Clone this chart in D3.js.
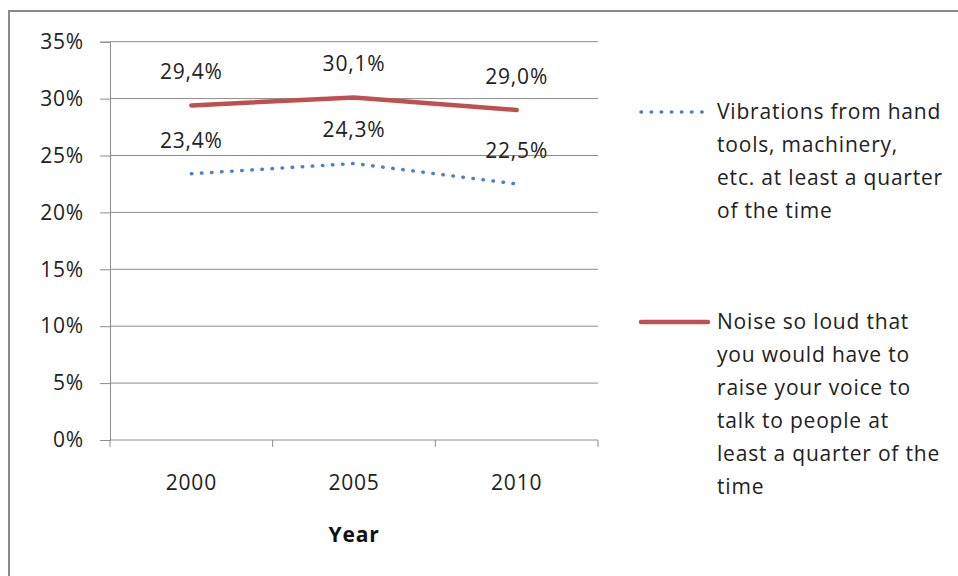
<!DOCTYPE html>
<html>
<head>
<meta charset="utf-8">
<script src="https://cdn.jsdelivr.net/npm/d3@7"></script>
<style>
  body { margin: 0; background: #fff; }
  svg { display: block; font-family: 'Open Sans', sans-serif; }
  text { letter-spacing: 0.8px; }
</style>
</head>
<body>
<div id="chart"></div>
<script>
const years = ['2000', '2005', '2010']
const vibration = [23.4, 24.3, 22.5]
const noise = [29.4, 30.1, 29.0]
const yTicks = [0, 5, 10, 15, 20, 25, 30, 35]
const legendVibration = ['Vibrations from hand', 'tools, machinery,', 'etc. at least a quarter', 'of the time']
const legendNoise = ['Noise so loud that', 'you would have to', 'raise your voice to', 'talk to people at', 'least a quarter of the', 'time']

const width = 958
const height = 576
const plot = { left: 110, right: 598, top: 41.7, bottom: 440 }
const fontSize = 21

const svg = d3.select('#chart').append('svg')
  .attr('width', width)
  .attr('height', height)

// outer frame (cut off on the right and bottom like the picture)
svg.append('rect')
  .attr('x', 9).attr('y', 11)
  .attr('width', 1000).attr('height', 1000)
  .attr('fill', 'none')
  .attr('stroke', '#8a8a8a')
  .attr('stroke-width', 2)

const x = d3.scaleBand().domain(years).range([plot.left, plot.right])
const y = d3.scaleLinear().domain([0, 35]).range([plot.bottom, plot.top])

const fmt = v => v.toFixed(1).replace('.', ',') + '%'

// gridlines
svg.append('g')
  .selectAll('line')
  .data(yTicks.filter(d => d > 0))
  .join('line')
  .attr('x1', plot.left).attr('x2', plot.right)
  .attr('y1', d => y(d)).attr('y2', d => y(d))
  .attr('stroke', '#8c8c8c')
  .attr('stroke-width', 1)

// y axis
const yAxis = svg.append('g')
  .attr('transform', `translate(${plot.left},0)`)
  .call(d3.axisLeft(y).tickValues(yTicks).tickSize(10).tickPadding(16).tickFormat(d => d + '%'))
yAxis.select('.domain').attr('stroke', '#8c8c8c')
yAxis.selectAll('.tick line').attr('stroke', '#8c8c8c')
yAxis.selectAll('text')
  .attr('font-size', fontSize)
  .attr('fill', '#222')
  .attr('font-family', 'Open Sans, sans-serif')

// x axis: ticks sit between categories
const xAxisG = svg.append('g')
xAxisG.append('line')
  .attr('x1', plot.left).attr('x2', plot.right)
  .attr('y1', plot.bottom).attr('y2', plot.bottom)
  .attr('stroke', '#8c8c8c')
xAxisG.selectAll('line.tk')
  .data(years.map(d => x(d)).concat([plot.right]))
  .join('line')
  .attr('class', 'tk')
  .attr('x1', d => d).attr('x2', d => d)
  .attr('y1', plot.bottom).attr('y2', plot.bottom + 7)
  .attr('stroke', '#8c8c8c')
xAxisG.selectAll('text')
  .data(years)
  .join('text')
  .attr('x', d => x(d) + x.bandwidth() / 2)
  .attr('y', 490)
  .attr('text-anchor', 'middle')
  .attr('font-size', fontSize)
  .attr('fill', '#222')
  .text(d => d)

svg.append('text')
  .attr('x', (plot.left + plot.right) / 2)
  .attr('y', 542)
  .attr('text-anchor', 'middle')
  .attr('font-size', fontSize)
  .attr('font-weight', 'bold')
  .attr('fill', '#111')
  .text('Year')

const line = d3.line()
  .x((d, i) => x(years[i]) + x.bandwidth() / 2)
  .y(d => y(d))

svg.append('path')
  .datum(vibration)
  .attr('d', line)
  .attr('fill', 'none')
  .attr('stroke', '#4F81BD')
  .attr('stroke-width', 3.5)
  .attr('stroke-linecap', 'round')
  .attr('stroke-dasharray', '0.5 9.6')

svg.append('path')
  .datum(noise)
  .attr('d', line)
  .attr('fill', 'none')
  .attr('stroke', '#C0504D')
  .attr('stroke-width', 4.5)
  .attr('stroke-linecap', 'round')

// data labels
const labels = svg.append('g')
  .attr('font-size', fontSize)
  .attr('fill', '#222')
  .attr('text-anchor', 'middle')
;[vibration, noise].forEach(series => {
  labels.selectAll(null)
    .data(series)
    .join('text')
    .attr('x', (d, i) => x(years[i]) + x.bandwidth() / 2)
    .attr('y', d => y(d) - 26)
    .text(fmt)
})

// legend
const legend = svg.append('g')
const entries = [
  { lines: legendVibration, color: '#4F81BD', dash: '0.5 9.6', width: 3.5, y: 112 },
  { lines: legendNoise, color: '#C0504D', dash: null, width: 4.5, y: 322 }
]
entries.forEach(e => {
  legend.append('line')
    .attr('x1', 641).attr('x2', 708)
    .attr('y1', e.y).attr('y2', e.y)
    .attr('stroke', e.color)
    .attr('stroke-width', e.width)
    .attr('stroke-linecap', 'round')
    .attr('stroke-dasharray', e.dash)
  legend.append('text')
    .attr('font-size', fontSize)
    .attr('fill', '#222')
    .selectAll('tspan')
    .data(e.lines)
    .join('tspan')
    .attr('x', 717)
    .attr('y', (d, i) => e.y + 6.5 + i * 33.1)
    .text(d => d)
})
</script>
</body>
</html>
